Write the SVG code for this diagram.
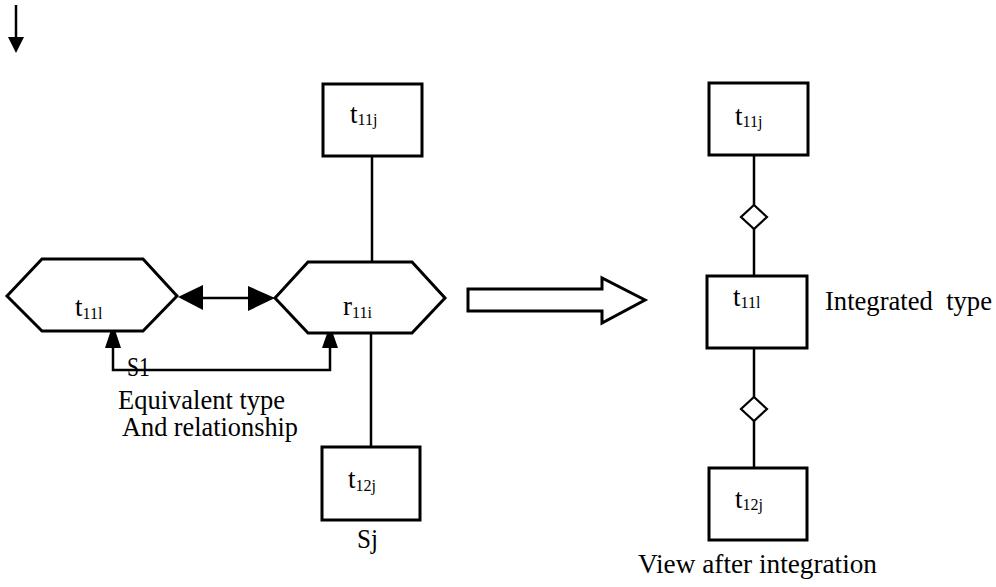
<svg xmlns="http://www.w3.org/2000/svg" width="996" height="587" viewBox="0 0 996 587">
  <style>
    .shape { fill: #fff; stroke: #000; stroke-width: 3; stroke-linejoin: miter; }
    .line { fill: none; stroke: #000; stroke-width: 2.5; }
    .head { fill: #000; stroke: none; }
    text { font-family: "Liberation Serif", "Times New Roman", serif; fill: #000; }
    .lbl { font-size: 27px; }
    .sub { font-size: 16px; }
    .cap { font-size: 27px; }
  </style>

  <rect width="996" height="587" fill="#fff"/>

  <!-- continuation arrow at top left -->
  <g id="start-arrow">
    <line class="line" x1="16" y1="5" x2="16" y2="38"/>
    <path class="head" d="M8,37 L24,37 L16,53 Z"/>
  </g>

  <!-- connectors -->
  <g id="connectors">
    <!-- t11j to r11i -->
    <line class="line" x1="372" y1="156" x2="372" y2="262"/>
    <!-- r11i to t12j -->
    <line class="line" x1="371" y1="333" x2="371" y2="447"/>
    <!-- equivalence: t11l <-> r11i -->
    <line class="line" x1="200" y1="298" x2="250" y2="298"/>
    <path class="head" d="M178,297 L203,285 L203,310 Z"/>
    <path class="head" d="M275,298 L248,286 L248,311 Z"/>
    <!-- S1 bracket -->
    <polyline class="line" points="113,346 113,370 330,370 330,346"/>
    <path class="head" d="M113,324 L121,348 L105,348 Z"/>
    <path class="head" d="M330,325 L338,348 L322,348 Z"/>
    <!-- transformation arrow -->
    <path class="shape" d="M468,289 L602,289 L602,278 L645,300 L602,323 L602,311 L468,311 Z"/>
    <!-- integrated view links -->
    <line class="line" x1="754" y1="155" x2="754" y2="205"/>
    <line class="line" x1="754" y1="229" x2="754" y2="276"/>
    <line class="line" x1="754" y1="348" x2="754" y2="397"/>
    <line class="line" x1="754" y1="421" x2="754" y2="468"/>
    <path class="shape" style="stroke-width:2.2" d="M754,205 L767,217 L754,229 L741,217 Z"/>
    <path class="shape" style="stroke-width:2.2" d="M754,397 L767,409 L754,421 L741,409 Z"/>
  </g>

  <!-- schema S1 / Sj side -->
  <g id="t11l-hex">
    <path class="shape" d="M7,296 L42,259 L143,259 L177,296 L143,331 L42,331 Z"/>
    <text class="lbl" x="75" y="316">t<tspan class="sub" dy="3">11l</tspan></text>
  </g>
  <g id="r11i-hex">
    <path class="shape" d="M275,298 L308,262 L412,262 L445,298 L412,333 L308,333 Z"/>
    <text class="lbl" x="343" y="315">r<tspan class="sub" dy="3">11i</tspan></text>
  </g>
  <g id="t11j-left">
    <rect class="shape" x="323" y="84" width="99" height="72"/>
    <text class="lbl" x="350" y="123">t<tspan class="sub" dy="2">11j</tspan></text>
  </g>
  <g id="t12j-left">
    <rect class="shape" x="322" y="447" width="98" height="73"/>
    <text class="lbl" x="348" y="488">t<tspan class="sub" dy="3">12j</tspan></text>
  </g>

  <!-- integrated view -->
  <g id="t11j-right">
    <rect class="shape" x="709" y="83" width="99" height="72"/>
    <text class="lbl" x="735" y="125">t<tspan class="sub" dy="2">11j</tspan></text>
  </g>
  <g id="t11l-right">
    <rect class="shape" x="707" y="276" width="100" height="72"/>
    <text class="lbl" x="733" y="306">t<tspan class="sub" dy="2">11l</tspan></text>
  </g>
  <g id="t12j-right">
    <rect class="shape" x="709" y="468" width="98" height="72"/>
    <text class="lbl" x="735" y="508">t<tspan class="sub" dy="2">12j</tspan></text>
  </g>

  <!-- captions -->
  <g id="captions">
    <text class="cap" x="127" y="376" textLength="23" lengthAdjust="spacingAndGlyphs">S1</text>
    <text class="cap" x="118" y="409" textLength="167" lengthAdjust="spacingAndGlyphs">Equivalent type</text>
    <text class="cap" x="122" y="436" textLength="176" lengthAdjust="spacingAndGlyphs">And relationship</text>
    <text class="cap" x="357" y="548" textLength="21" lengthAdjust="spacingAndGlyphs">Sj</text>
    <text class="cap" x="825" y="310" textLength="167" lengthAdjust="spacingAndGlyphs" xml:space="preserve">Integrated  type</text>
    <text class="cap" x="638" y="573" textLength="239" lengthAdjust="spacingAndGlyphs">View after integration</text>
  </g>
</svg>
